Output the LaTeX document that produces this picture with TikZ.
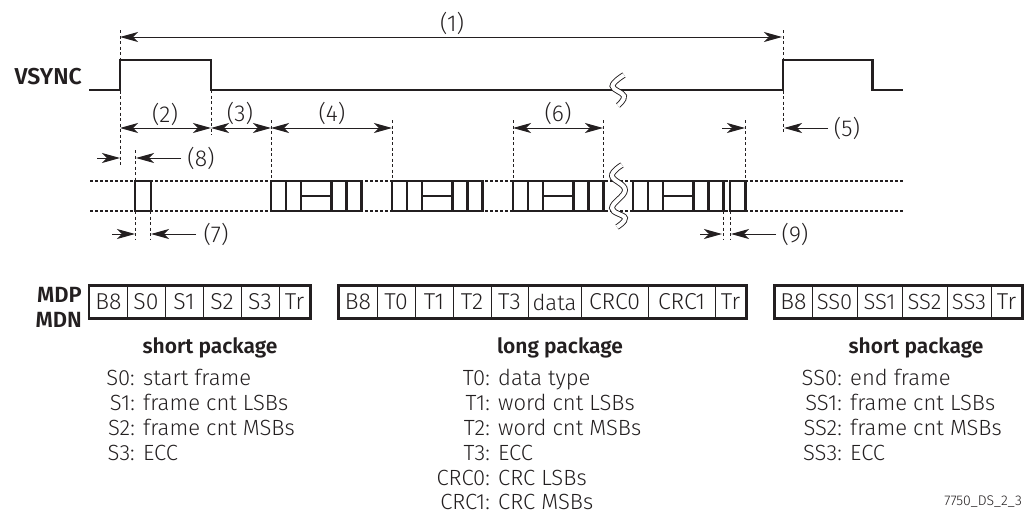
\documentclass[tikz,border=0pt]{standalone}
\usepackage{fontspec}
\setmainfont{Fira Sans}[UprightFont=* Light,BoldFont=* SemiBold]
\usetikzlibrary{arrows.meta}
\definecolor{inkColor}{RGB}{35,31,32}

\begin{document}
\begin{tikzpicture}[x=1pt,y=-1pt,
          wave/.style={inkColor,line width=2.4pt,line join=miter},
          tick/.style={inkColor,line width=0.7pt,dash pattern=on 3pt off 2.5pt},
          dimline/.style={inkColor,line width=1pt,{Stealth[length=18pt,width=10pt,inset=5pt]}-{Stealth[length=18pt,width=10pt,inset=5pt]}},
          oneway/.style={inkColor,line width=1pt,-{Stealth[length=18pt,width=10pt,inset=5pt]}},
          dotline/.style={inkColor,line width=2.5pt,dash pattern=on 2.5pt off 2.5pt},
          brk/.style={inkColor,line width=0.9pt,double=white,double distance=4pt},
          pack/.style={inkColor,line width=2.2pt,fill=white},
          cell/.style={draw=inkColor,line width=1pt,inner sep=0pt,minimum height=32pt,
                       text=inkColor,font=\fontsize{23}{24}\selectfont},
          frameb/.style={inkColor,line width=2.2pt},
          lab/.style={inkColor,inner sep=0pt,font=\fontsize{23}{26}\selectfont},
          head/.style={inkColor,inner sep=0pt,font=\fontsize{21}{24}\selectfont\bfseries},
          key/.style={inkColor,inner sep=0pt,anchor=base east,font=\fontsize{22}{24}\selectfont},
          desc/.style={inkColor,inner sep=0pt,anchor=base west,font=\fontsize{22}{24}\selectfont},
        ]
        \useasboundingbox (0,0) rectangle (1028,514);

        % dashed ticks
        \foreach \na/\x/\ya/\yb in {a/120/30/166,b/211/90/135,c/783/30/133,d/271/120/180,
                                    e/392/120/180,f/513/120/180,g/603/120/180,h/745/120/180,
                                    i/135/150/180,j/135/211/240,k/150/211/240,
                                    l/723/211/240,m/730/211/240}{
          \coordinate (\na top) at (\x,\ya);
          \coordinate (\na bot) at (\x,\yb);
          \draw[tick] (\na top)--(\na bot);
        }

        % VSYNC
        \node[inkColor,inner sep=0pt,anchor=base east,font=\fontsize{23}{26}\selectfont\bfseries] (vs) at (82,84){VSYNC};
        \coordinate (w0) at (89,90);
        \coordinate (w1) at (120,60);
        \coordinate (w2) at (211,90);
        \coordinate (w3) at (783,60);
        \coordinate (w4) at (872.5,90);
        \coordinate (w5) at (903,90);
        \draw[wave] (w0)-|(w1)-|(w2)-|(w3)-|(w4)--(w5);
        \draw[brk] plot[smooth,tension=0.7] coordinates {(624,75)(612.5,86)(624,96)(618,105.5)};

        % lanes
        \coordinate (u0) at (90,181);
        \coordinate (u1) at (903,181);
        \coordinate (v0) at (90,211);
        \coordinate (v1) at (903,211);
        \draw[dotline] (u0)--(u1);
        \draw[dotline] (v0)--(v1);
        \draw[pack] (135,181) rectangle (151,211);
        \draw[pack] (730,181) rectangle (745.5,211);
        \foreach \x in {271,392,513,633}{
          \draw[pack] (\x,181) rectangle (\x+90.5,211);
          \draw[pack] (\x+15,181)--(\x+15,211)(\x+30,181)--(\x+30,211)(\x+60.5,181)--(\x+60.5,211)
                      (\x+75.5,181)--(\x+75.5,211)(\x+30,196)--(\x+60.5,196);
        }
        \draw[brk] plot[smooth,tension=0.7] coordinates {(622,165)(612,176)(625,190)(612,208)(625,218)(617,227)};

        % arrows
        \foreach \na/\xa/\xb/\y in {a1/120/782/37,a2/120/211/128,a3/211/271/128,a4/271/392/128,a6/513/603/128}{
          \coordinate (\na s) at (\xa,\y);
          \coordinate (\na e) at (\xb,\y);
          \draw[dimline] (\na s)--(\na e);
        }
        \foreach \na/\xa/\xb/\y in {p1/97/120/158,p2/181/136/158,p3/112/135/234,p4/196/151/234,
                                    p5/700/722/234,p6/776/731/234,p7/722/745/128,p8/828/784/128}{
          \coordinate (\na s) at (\xa,\y);
          \coordinate (\na e) at (\xb,\y);
          \draw[oneway] (\na s)--(\na e);
        }
        \node[lab](n1) at (452,23){(1)};
        \node[lab](n2) at (165,114){(2)};
        \node[lab](n3) at (240,113){(3)};
        \node[lab](n4) at (332,113){(4)};
        \node[lab](n5) at (847,128){(5)};
        \node[lab](n6) at (558,113){(6)};
        \node[lab](n7) at (216,234){(7)};
        \node[lab](n8) at (201,158){(8)};
        \node[lab](n9) at (795,234){(9)};

        % SHORT PACKAGE
        \node[key,font=\fontsize{22}{24}\selectfont\bfseries](mdp) at (82,302){MDP};
        \node[key,font=\fontsize{22}{24}\selectfont\bfseries](mdn) at (82,327){MDN};
        \node[cell,minimum width=38pt](sa) at (108.5,302){B8};
        \node[cell,minimum width=38pt](sb) at (146,302){S0};
        \node[cell,minimum width=38pt](sc) at (184,302){S1};
        \node[cell,minimum width=38pt](sd) at (222,302){S2};
        \node[cell,minimum width=38pt](se) at (260,302){S3};
        \node[cell,minimum width=31pt](sf) at (294.5,302){Tr};
        \draw[frameb] (sa.north west) rectangle (sf.south east);
        \node[head](sh) at (210,348){short package};
        \foreach \na/\kk/\dd/\y in {a/S0/start frame/385,b/S1/frame cnt LSBs/410,
                                    c/S2/frame cnt MSBs/435,d/S3/ECC/460}{
          \node[key](ka\na) at (135,\y){\kk:};
          \node[desc](da\na) at (143,\y){\dd};
        }

        % LONG PACKAGE
        \node[cell,minimum width=38pt](la) at (358,302){B8};
        \node[cell,minimum width=38pt](lb) at (396,302){T0};
        \node[cell,minimum width=38pt](lc) at (434,302){T1};
        \node[cell,minimum width=38pt](ld) at (472,302){T2};
        \node[cell,minimum width=37pt](le) at (509.5,302){T3};
        \node[cell,minimum width=53pt,font=\fontsize{22}{24}\selectfont](lf) at (554.5,302){data};
        \node[cell,minimum width=67pt](lg) at (614.5,302){CRC0};
        \node[cell,minimum width=67pt](lh) at (681.5,302){CRC1};
        \node[cell,minimum width=31pt](li) at (730.5,302){Tr};
        \draw[frameb] (la.north west) rectangle (li.south east);
        \node[head](lk) at (560,348){long package};
        \foreach \na/\kk/\dd/\y in {a/T0/data type/385,b/T1/word cnt LSBs/410,c/T2/word cnt MSBs/435,
                                    d/T3/ECC/460,e/CRC0/CRC LSBs/485,f/CRC1/CRC MSBs/509}{
          \node[key](kb\na) at (490,\y){\kk:};
          \node[desc](db\na) at (498,\y){\dd};
        }

        % END PACKAGE
        \node[cell,minimum width=37pt](ea) at (793.5,302){B8};
        \node[cell,minimum width=45pt,font=\fontsize{22}{24}\selectfont](eb) at (834.5,302){SS0};
        \node[cell,minimum width=45pt,font=\fontsize{22}{24}\selectfont](ec) at (879.5,302){SS1};
        \node[cell,minimum width=45pt,font=\fontsize{22}{24}\selectfont](ed) at (924.5,302){SS2};
        \node[cell,minimum width=44pt,font=\fontsize{22}{24}\selectfont](ee) at (969,302){SS3};
        \node[cell,minimum width=31pt](ef) at (1006.5,302){Tr};
        \draw[frameb] (ea.north west) rectangle (ef.south east);
        \node[head](eh) at (916,348){short package};
        \foreach \na/\kk/\dd/\y in {a/SS0/end frame/385,b/SS1/frame cnt LSBs/410,
                                    c/SS2/frame cnt MSBs/435,d/SS3/ECC/460}{
          \node[key](kc\na) at (842,\y){\kk:};
          \node[desc](dc\na) at (850,\y){\dd};
        }

        \node[inkColor,inner sep=0pt,anchor=base east,font=\fontsize{14}{16}\selectfont](tag) at (1022,505){7750\_DS\_2\_3};
      \end{tikzpicture}
\end{document}
